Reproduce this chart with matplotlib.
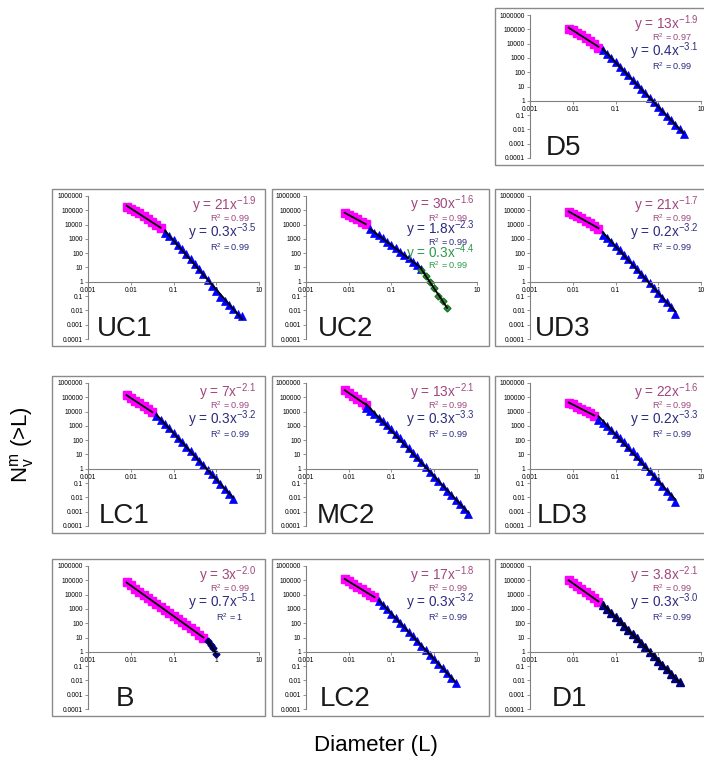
import matplotlib
matplotlib.use('Agg')
import matplotlib.pyplot as plt
import numpy as np
from matplotlib.patches import Rectangle
from matplotlib.ticker import FixedLocator, FixedFormatter, NullLocator

plt.rcParams['font.family'] = ['Liberation Sans', 'DejaVu Sans']
plt.rcParams['mathtext.fontset'] = 'custom'
plt.rcParams['mathtext.rm'] = 'Liberation Sans'
plt.rcParams['mathtext.it'] = 'Liberation Sans:italic'
plt.rcParams['mathtext.bf'] = 'Liberation Sans:bold'

# ---- data ----
d5_pink_x = [0.008, 0.01, 0.0125, 0.016, 0.02, 0.025, 0.032, 0.04]
d5_pink_y = [112000, 87000, 59000, 38000, 24000, 15000, 9200, 5300]
d5_blue_x = [0.05, 0.063, 0.08, 0.1, 0.125, 0.16, 0.2, 0.25, 0.32, 0.4, 0.5, 0.63, 0.8, 1.0, 1.25, 1.6, 2.0, 2.5, 3.2, 4.0]
d5_blue_y = [3500, 2000, 1050, 520, 250, 125, 60, 30, 14, 6.6, 3.3, 1.6, 0.78, 0.39, 0.19, 0.09, 0.046, 0.022, 0.0105, 0.0044]

uc1_pink_x = [0.008, 0.01, 0.0125, 0.016, 0.02, 0.025, 0.032, 0.04, 0.05]
uc1_pink_y = [182000, 132000, 91000, 60000, 39000, 24500, 14800, 8900, 5400]
uc1_blue_x = [0.063, 0.08, 0.1, 0.125, 0.16, 0.2, 0.25, 0.32, 0.4, 0.5, 0.63, 0.8, 1.0, 1.25, 1.6, 2.0, 2.5, 3.2, 4.0]
uc1_blue_y = [2700, 1500, 800, 400, 190, 89, 41, 18, 7.6, 3.4, 1.35, 0.54, 0.21, 0.085, 0.048, 0.024, 0.012, 0.006, 0.004]

uc2_pink_x = [0.008, 0.01, 0.0125, 0.016, 0.02, 0.025]
uc2_pink_y = [63000, 49000, 33000, 23000, 15500, 10200]
uc2_blue_x = [0.032, 0.04, 0.05, 0.063, 0.08, 0.1, 0.125, 0.16, 0.2, 0.25, 0.32, 0.4, 0.5]
uc2_blue_y = [4600, 2700, 1740, 1100, 650, 380, 214, 120, 71, 43, 26, 15, 8.3]
uc2_green_x = [0.5, 0.63, 0.8, 1.0, 1.25, 1.6, 2.0]
uc2_green_y = [7.1, 2.6, 1.0, 0.35, 0.11, 0.045, 0.014]

ud3_pink_x = [0.008, 0.01, 0.0125, 0.016, 0.02, 0.025, 0.032, 0.04]
ud3_pink_y = [79000, 56000, 40000, 27000, 18600, 12600, 8300, 5200]
ud3_blue_x = [0.05, 0.063, 0.08, 0.1, 0.125, 0.16, 0.2, 0.25, 0.32, 0.4, 0.5, 0.63, 0.8, 1.0, 1.25, 1.6, 2.0, 2.5]
ud3_blue_y = [2000, 1200, 630, 316, 158, 79, 38, 18, 8.3, 3.8, 1.74, 0.79, 0.36, 0.166, 0.079, 0.038, 0.017, 0.0056]

lc1_pink_x = [0.008, 0.01, 0.0125, 0.016, 0.02, 0.025, 0.032]
lc1_pink_y = [135000, 91000, 59000, 37000, 23400, 14500, 8900]
lc1_blue_x = [0.04, 0.05, 0.063, 0.08, 0.1, 0.125, 0.16, 0.2, 0.25, 0.32, 0.4, 0.5, 0.63, 0.8, 1.0, 1.25, 1.6, 2.0, 2.5]
lc1_blue_y = [5200, 2800, 1380, 660, 316, 151, 72, 35, 16.6, 7.9, 3.8, 1.8, 0.87, 0.42, 0.2, 0.089, 0.04, 0.018, 0.0079]

mc2_pink_x = [0.008, 0.01, 0.0125, 0.016, 0.02, 0.025]
mc2_pink_y = [316000, 200000, 126000, 79000, 50000, 30000]
mc2_blue_x = [0.025, 0.032, 0.04, 0.05, 0.063, 0.08, 0.1, 0.125, 0.16, 0.2, 0.25, 0.32, 0.4, 0.5, 0.63, 0.8, 1.0, 1.25, 1.6, 2.0, 2.5, 3.2, 4.0, 5.0, 6.3]
mc2_blue_y = [17800, 11200, 6600, 3700, 2100, 1120, 575, 290, 138, 65, 30, 13.5, 6.2, 2.8, 1.3, 0.6, 0.28, 0.13, 0.063, 0.03, 0.0145, 0.0069, 0.0032, 0.0016, 0.0007]

ld3_pink_x = [0.008, 0.01, 0.0125, 0.016, 0.02, 0.025, 0.032]
ld3_pink_y = [42000, 32000, 22000, 16000, 11000, 7600, 5200]
ld3_blue_x = [0.04, 0.05, 0.063, 0.08, 0.1, 0.125, 0.16, 0.2, 0.25, 0.32, 0.4, 0.5, 0.63, 0.8, 1.0, 1.25, 1.6, 2.0, 2.5]
ld3_blue_y = [2500, 1580, 930, 525, 280, 145, 72, 35, 17, 7.9, 3.6, 1.58, 0.69, 0.3, 0.138, 0.063, 0.028, 0.0126, 0.0045]

b_pink_x = [0.008, 0.01, 0.0125, 0.016, 0.02, 0.025, 0.032, 0.04, 0.05, 0.063, 0.08, 0.1, 0.125, 0.16, 0.2, 0.25, 0.32, 0.4, 0.5]
b_pink_y = [70800, 43600, 26300, 16200, 9800, 6000, 3700, 2240, 1380, 830, 510, 316, 190, 117, 71, 44, 27, 16.2, 10]
b_navy_x = [0.63, 0.75, 0.85, 1.0]
b_navy_y = [6.0, 2.8, 1.8, 0.65]

lc2_pink_x = [0.008, 0.01, 0.0125, 0.016, 0.02, 0.025, 0.032, 0.04]
lc2_pink_y = [120000, 83000, 55000, 36000, 24000, 15500, 10000, 6300]
lc2_blue_x = [0.05, 0.063, 0.08, 0.1, 0.125, 0.16, 0.2, 0.25, 0.32, 0.4, 0.5, 0.63, 0.8, 1.0, 1.25, 1.6, 2.0, 2.5, 3.2]
lc2_blue_y = [3800, 1900, 955, 470, 230, 110, 52, 25, 12, 5.8, 2.75, 1.32, 0.63, 0.3, 0.145, 0.069, 0.033, 0.0158, 0.0071]

d1_pink_x = [0.008, 0.01, 0.0125, 0.016, 0.02, 0.025, 0.032, 0.04]
d1_pink_y = [100000, 63000, 38000, 23400, 14500, 8900, 5500, 3160]
d1_blue_x = [0.05, 0.063, 0.08, 0.1, 0.125, 0.16, 0.2, 0.25, 0.32, 0.4, 0.5, 0.63, 0.8, 1.0, 1.25, 1.6, 2.0, 2.5, 3.2]
d1_blue_y = [1900, 1000, 525, 270, 138, 69, 35, 17.4, 8.7, 4.3, 2.1, 1.0, 0.49, 0.24, 0.117, 0.058, 0.028, 0.0138, 0.0076]

# trendline labels: (coefficient, exponent, r2)
d5_labels = [('13', '-1.9', '0.97'), ('0.4', '-3.1', '0.99')]
uc1_labels = [('21', '-1.9', '0.99'), ('0.3', '-3.5', '0.99')]
uc2_labels = [('30', '-1.6', '0.99'), ('1.8', '-2.3', '0.99'), ('0.3', '-4.4', '0.99')]
ud3_labels = [('21', '-1.7', '0.99'), ('0.2', '-3.2', '0.99')]
lc1_labels = [('7', '-2.1', '0.99'), ('0.3', '-3.2', '0.99')]
mc2_labels = [('13', '-2.1', '0.99'), ('0.3', '-3.3', '0.99')]
ld3_labels = [('22', '-1.6', '0.99'), ('0.2', '-3.3', '0.99')]
b_labels = [('3', '-2.0', '0.99'), ('0.7', '-5.1', '1')]
lc2_labels = [('17', '-1.8', '0.99'), ('0.3', '-3.2', '0.99')]
d1_labels = [('3.8', '-2.1', '0.99'), ('0.3', '-3.0', '0.99')]

y_ticks = [1e-4, 1e-3, 1e-2, 1e-1, 1, 10, 100, 1000, 1e4, 1e5, 1e6]
y_ticklabels = ['0.0001', '0.001', '0.01', '0.1', '1', '10', '100', '1000', '10000', '100000', '1000000']
x_ticks = [1e-3, 1e-2, 1e-1, 1, 10]
x_ticklabels = ['0.001', '0.01', '0.1', '1', '10']

PINK = '#ff00ff'
BLUE = '#0000ff'
NAVY = '#00007a'
GREEN = '#2f9a3c'
TXT_COLORS = ['#a0467e', '#2b2b80', '#2a9a4a']

W, H = 704, 759
fig = plt.figure(figsize=(W / 100, H / 100), dpi=100)

col_left = [88, 306, 530]
row_top = [15, 196, 383, 566]
box_x = [(52, 265), (272, 489), (495, 705)]

sq = dict(marker='s', color=PINK, ms=5.2, mec=PINK)
tri = dict(marker='^', color=BLUE, ms=5.5, mec=BLUE, mew=0.5)
tri_navy = dict(marker='^', color=NAVY, ms=5.5, mec=NAVY)
dia_navy = dict(marker='D', color=NAVY, ms=3.5, mec=NAVY)
dia_green = dict(marker='D', color=GREEN, ms=3.5, mec='#1f6f2a')

panels = [
    ('D5', 2, 0, 0.09, [(d5_pink_x, d5_pink_y, sq), (d5_blue_x, d5_blue_y, tri)], d5_labels),
    ('UC1', 0, 1, 0.05, [(uc1_pink_x, uc1_pink_y, sq), (uc1_blue_x, uc1_blue_y, tri)], uc1_labels),
    ('UC2', 1, 1, 0.07, [(uc2_pink_x, uc2_pink_y, sq), (uc2_blue_x, uc2_blue_y, tri),
                         (uc2_green_x, uc2_green_y, dia_green)], uc2_labels),
    ('UD3', 2, 1, 0.03, [(ud3_pink_x, ud3_pink_y, sq), (ud3_blue_x, ud3_blue_y, tri)], ud3_labels),
    ('LC1', 0, 2, 0.06, [(lc1_pink_x, lc1_pink_y, sq), (lc1_blue_x, lc1_blue_y, tri)], lc1_labels),
    ('MC2', 1, 2, 0.06, [(mc2_pink_x, mc2_pink_y, sq), (mc2_blue_x, mc2_blue_y, tri)], mc2_labels),
    ('LD3', 2, 2, 0.04, [(ld3_pink_x, ld3_pink_y, sq), (ld3_blue_x, ld3_blue_y, tri)], ld3_labels),
    ('B', 0, 3, 0.16, [(b_pink_x, b_pink_y, sq), (b_navy_x, b_navy_y, dia_navy)], b_labels),
    ('LC2', 1, 3, 0.08, [(lc2_pink_x, lc2_pink_y, sq), (lc2_blue_x, lc2_blue_y, tri)], lc2_labels),
    ('D1', 2, 3, 0.13, [(d1_pink_x, d1_pink_y, sq), (d1_blue_x, d1_blue_y, tri_navy)], d1_labels),
]

for name, col, row, name_x, series, labels in panels:
    top = row_top[row]
    # outer chart border
    bx0, bx1 = box_x[col]
    fig.add_artist(Rectangle((bx0 / W, 1 - (top + 150) / H), (bx1 - bx0) / W, 157 / H,
                             transform=fig.transFigure, fill=False, ec='#8a8a8a', lw=1.0))
    ax = fig.add_axes([col_left[col] / W, 1 - (top + 143) / H, 171 / W, 143 / H])
    ax.set_xscale('log')
    ax.set_yscale('log')
    ax.set_xlim(1e-3, 10)
    ax.set_ylim(1e-4, 1e6)
    ax.patch.set_alpha(0)
    for s in ['top', 'right']:
        ax.spines[s].set_visible(False)
    ax.spines['bottom'].set_position(('data', 1))
    for s in ['left', 'bottom']:
        ax.spines[s].set_color('#808080')
        ax.spines[s].set_linewidth(0.8)
    ax.yaxis.set_major_locator(FixedLocator(y_ticks))
    ax.yaxis.set_major_formatter(FixedFormatter(y_ticklabels))
    ax.xaxis.set_major_locator(FixedLocator(x_ticks))
    ax.xaxis.set_major_formatter(FixedFormatter(x_ticklabels))
    ax.xaxis.set_minor_locator(NullLocator())
    ax.yaxis.set_minor_locator(NullLocator())
    ax.tick_params(axis='both', labelsize=4.8, length=2, width=0.6, color='#808080', pad=1.5)

    for x, y, style in series:
        ax.plot(x, y, ls='none', zorder=2, clip_on=False, **style)
    # power-law trendlines fitted in log space
    for x, y, style in series:
        lx, ly = np.log10(x), np.log10(y)
        p = np.polyfit(lx, ly, 1)
        xs = np.linspace(lx[0], lx[-1], 50)
        ax.plot(10 ** xs, 10 ** np.polyval(p, xs), color='black', lw=1.3, zorder=3)

    if len(labels) == 3:
        ys = [0.945, 0.848, 0.765, 0.678, 0.6, 0.515]
    else:
        ys = [0.935, 0.845, 0.745, 0.64]
    for i, (a, b, r2) in enumerate(labels):
        c = TXT_COLORS[i]
        ax.text(0.985, ys[2 * i], 'y = %sx$^{\\mathregular{%s}}$' % (a, b), transform=ax.transAxes,
                ha='right', va='center', fontsize=9.8, color=c)
        ax.text(0.83, ys[2 * i + 1], 'R$^{\\mathregular{2}}$ = %s' % r2, transform=ax.transAxes,
                ha='center', va='center', fontsize=6.6, color=c)

    ax.text(name_x, 0.02, name, transform=ax.transAxes, fontsize=20, color='#1a1a1a',
            ha='left', va='baseline')

fig.text(22 / W, 1 - 445 / H, r'N$^{\mathregular{m}}_{\mathregular{v}}$ (>L)', rotation=90,
         fontsize=16, ha='center', va='center')
fig.text(376 / W, 1 - 745 / H, 'Diameter (L)', fontsize=16, ha='center', va='center')

fig.savefig('out.png', dpi=100)
